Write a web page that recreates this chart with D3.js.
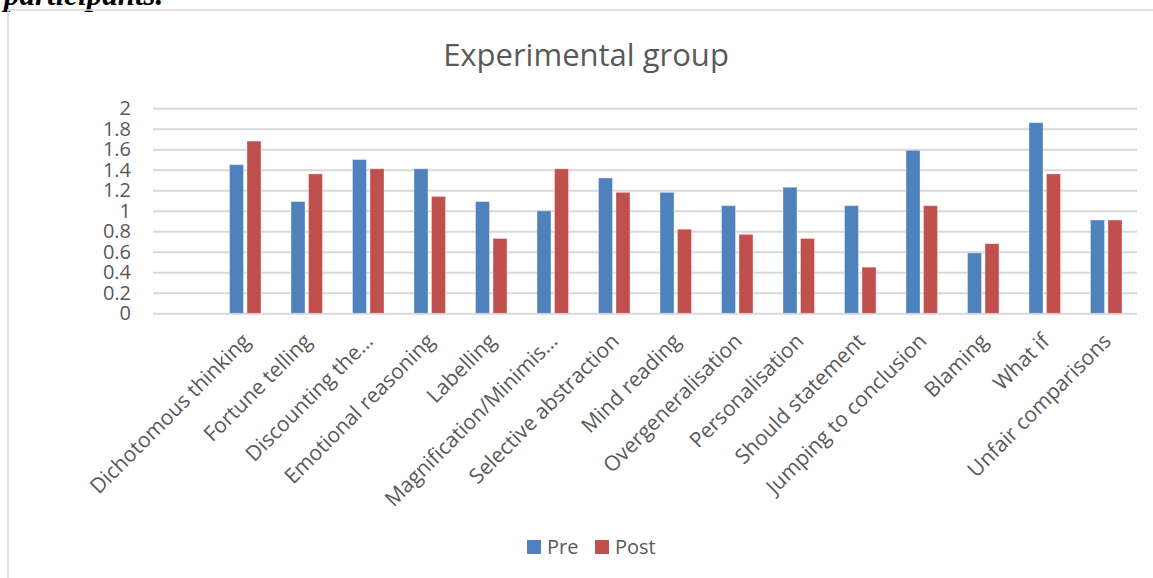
<!DOCTYPE html>
<html>
<head>
<meta charset="utf-8">
<script src="https://cdn.jsdelivr.net/npm/d3@7"></script>
<style>
  html, body { margin: 0; padding: 0; background: #fff; }
  svg { display: block; }
</style>
</head>
<body>
<svg id="chart" width="1153" height="578"></svg>
<script>
// Cognitive distortion categories (first slot is an unlabeled empty category)
const categories = [
  "",
  "Dichotomous thinking",
  "Fortune telling",
  "Discounting the…",
  "Emotional reasoning",
  "Labelling",
  "Magnification/Minimis…",
  "Selective abstraction",
  "Mind reading",
  "Overgeneralisation",
  "Personalisation",
  "Should statement",
  "Jumping to conclusion",
  "Blaming",
  "What if",
  "Unfair comparisons"
];

const preValues  = [null, 1.45, 1.09, 1.50, 1.41, 1.09, 1.00, 1.32, 1.18, 1.05, 1.23, 1.05, 1.59, 0.59, 1.86, 0.91];
const postValues = [null, 1.68, 1.36, 1.41, 1.14, 0.73, 1.41, 1.18, 0.82, 0.77, 0.73, 0.45, 1.05, 0.68, 1.36, 0.91];

const seriesNames = ["Pre", "Post"];
const seriesColors = ["#4f81bd", "#c0504d"];
const yTicks = [0, 0.2, 0.4, 0.6, 0.8, 1, 1.2, 1.4, 1.6, 1.8, 2];

const chartTitle = "Experimental group";
const captionTail = "participants.";

const svg = d3.select("#chart");
const textColor = "#595959";
const gridColor = "#d9d9d9";
const font = "'Open Sans', sans-serif";

// Caption line of the surrounding document, clipped at the top edge
svg.append("text")
  .attr("x", 4).attr("y", 5)
  .attr("font-family", "'Liberation Serif', serif")
  .attr("font-weight", "bold").attr("font-style", "italic")
  .attr("font-size", 31)
  .attr("fill", "#000")
  .text(captionTail);

// Chart frame
svg.append("path")
  .attr("d", "M8,578 L8,10 L1153,10")
  .attr("fill", "none")
  .attr("stroke", gridColor)
  .attr("stroke-width", 1.5);

const plot = { left: 153, right: 1137, top: 108.3, bottom: 313.3 };

const x0 = d3.scaleBand()
  .domain(d3.range(categories.length))
  .range([plot.left, plot.right])
  .padding(0);

const pairWidth = 31.5;
const x1 = d3.scaleBand()
  .domain(seriesNames)
  .range([0, pairWidth])
  .paddingInner(0.2);

const y = d3.scaleLinear()
  .domain([0, 2])
  .range([plot.bottom, plot.top]);

// Title
svg.append("text")
  .attr("x", 586).attr("y", 66)
  .attr("text-anchor", "middle")
  .attr("font-family", font)
  .attr("font-size", 31)
  .attr("fill", textColor)
  .text(chartTitle);

// Gridlines via y axis
const yAxis = d3.axisLeft(y)
  .tickValues(yTicks)
  .tickSize(-(plot.right - plot.left))
  .tickPadding(22)
  .tickFormat(d3.format("~g"));

const gy = svg.append("g")
  .attr("transform", `translate(${plot.left},0)`)
  .call(yAxis);
gy.select(".domain").remove();
gy.selectAll(".tick line")
  .attr("stroke", gridColor)
  .attr("stroke-width", 2);
gy.selectAll(".tick text")
  .attr("font-family", font)
  .attr("font-size", 20)
  .attr("fill", textColor);

// Bars
const rows = categories.map((c, i) => ({ i, values: [preValues[i], postValues[i]] }));
const groups = svg.append("g").selectAll("g")
  .data(rows)
  .join("g")
  .attr("transform", d => `translate(${x0(d.i) + (x0.bandwidth() - pairWidth) / 2},0)`);

groups.selectAll("rect")
  .data(d => d.values.map((v, k) => ({ v, k })).filter(e => e.v != null))
  .join("rect")
  .attr("x", e => x1(seriesNames[e.k]))
  .attr("width", x1.bandwidth())
  .attr("y", e => y(e.v))
  .attr("height", e => y(0) - y(e.v))
  .attr("fill", e => seriesColors[e.k])
  .attr("stroke", "rgba(255,255,255,0.35)")
  .attr("stroke-width", 1);

// Category labels, rotated
const xAxis = d3.axisBottom(x0)
  .tickSize(0)
  .tickFormat(i => categories[i]);

const gx = svg.append("g")
  .attr("transform", `translate(0,${plot.bottom})`)
  .call(xAxis);
gx.select(".domain").remove();
gx.selectAll(".tick text")
  .attr("font-family", font)
  .attr("font-size", 21)
  .attr("fill", textColor)
  .attr("text-anchor", "end")
  .attr("dy", 0)
  .attr("transform", "translate(4,27) rotate(-45)");

// Legend
const legend = svg.append("g");
const legendItems = [
  { name: seriesNames[0], color: seriesColors[0], x: 527 },
  { name: seriesNames[1], color: seriesColors[1], x: 595 }
];
legendItems.forEach(it => {
  legend.append("rect")
    .attr("x", it.x).attr("y", 540)
    .attr("width", 14).attr("height", 14)
    .attr("fill", it.color);
  legend.append("text")
    .attr("x", it.x + 20).attr("y", 554)
    .attr("font-family", font)
    .attr("font-size", 20)
    .attr("fill", textColor)
    .text(it.name);
});
</script>
</body>
</html>
